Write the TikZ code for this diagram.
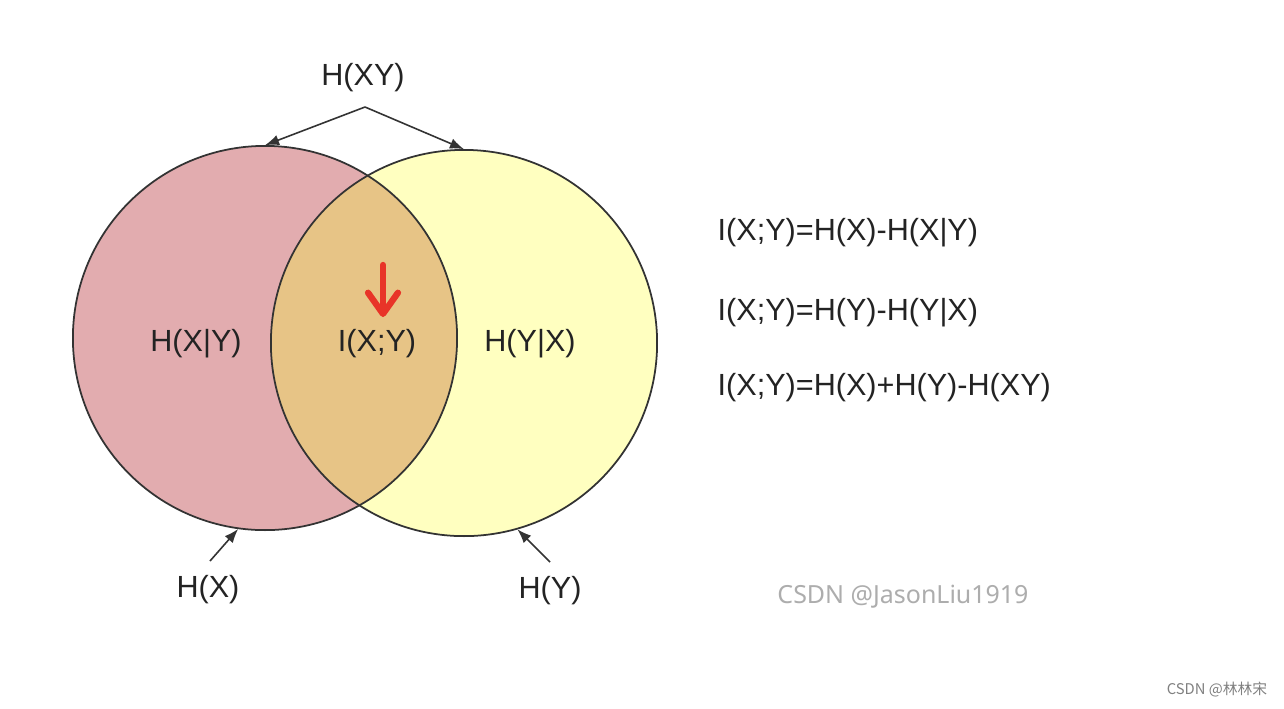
\documentclass[tikz,border=0pt]{standalone}
\usepackage{fontspec}
\setmainfont{Liberation Sans}
\newfontfamily\wmfont{Noto Sans}
\newfontfamily\cjkfont{Noto Sans CJK SC}
\usetikzlibrary{arrows.meta}
\definecolor{entpink}{RGB}{226, 172, 175}
\definecolor{entyellow}{RGB}{255, 255, 192}
\definecolor{enttan}{RGB}{231, 196, 134}
\definecolor{entred}{RGB}{232, 52, 40}
\definecolor{inkgray}{RGB}{35, 35, 35}

\begin{document}
\begin{tikzpicture}[x=0.01cm, y=-0.01cm,
    lbl/.style={font=\fontsize{8.7}{10}\selectfont, text=inkgray, inner sep=0pt},
    ring/.style={circle, inner sep=0pt, minimum size=3.84cm},
    ptr/.style={-{Latex[length=4pt, width=3pt]}, draw=black!80, line width=0.45pt}]
    \useasboundingbox[fill=white] (0,0) rectangle (1284,708);

    % Two entropy circles
    \node[ring, fill=entpink] (hx) at (265,338) {};
    \node[ring, fill=entyellow, minimum size=3.86cm] (hy) at (464,343) {};

    % Overlap: mutual information
    \begin{scope}
        \clip (hx.center) circle (1.92cm);
        \fill[enttan] (hy.center) circle (1.93cm);
    \end{scope}
    \draw[black!80, line width=0.5pt] (hx.center) circle (1.92cm);
    \draw[black!80, line width=0.5pt] (hy.center) circle (1.93cm);

    % Region labels
    \node[lbl] (cxy) at (196,344) {H(X|Y)};
    \node[lbl] (mi) at (377,344) {I(X;Y)};
    \node[lbl] (cyx) at (530,344) {H(Y|X)};

    % Red marker
    \coordinate (mitop) at (383,265);
    \coordinate (mitip) at (383,317);
    \draw[entred, line width=1.8pt, line cap=round, line join=round,
        -{Straight Barb[length=6pt, width=8.5pt, round]}] (mitop) -- (mitip);

    % Joint entropy
    \node[lbl] (hxy) at (363,78) {H(XY)};
    \coordinate (fork) at (365,107);
    \draw[ptr] (fork) -- (hx.north);
    \draw[ptr] (fork) -- (hy.north);

    % Marginal entropies
    \node[lbl] (hxl) at (208,590) {H(X)};
    \node[lbl] (hyl) at (550,591) {H(Y)};
    \coordinate (hxtail) at (210,561);
    \coordinate (hytail) at (550,562);
    \draw[ptr] (hxtail) -- (hx.262);
    \draw[ptr] (hytail) -- (hy.286);

    % Identities
    \node[lbl, anchor=west] (eq1) at (717,233) {I(X;Y)=H(X)-H(X|Y)};
    \node[lbl, anchor=west] (eq2) at (717,313) {I(X;Y)=H(Y)-H(Y|X)};
    \node[lbl, anchor=west] (eq3) at (717,388) {I(X;Y)=H(X)+H(Y)-H(XY)};

    % Watermarks
    \node[font=\wmfont\fontsize{7.1}{8}\selectfont, text=black!32] (wm1) at (903,597) {CSDN @JasonLiu1919};
    \node[font=\cjkfont\fontsize{4.2}{5}\selectfont, text=black!50] (wm2) at (1217,690) {CSDN @林林宋};
\end{tikzpicture}
\end{document}
